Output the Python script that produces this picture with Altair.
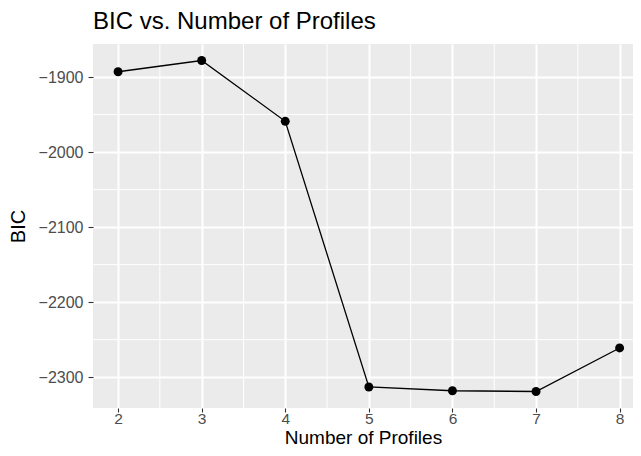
import altair as alt
import pandas as pd

# data
profiles = [2, 3, 4, 5, 6, 7, 8]
bic = [-1893, -1878, -1959, -2313, -2318, -2319, -2261]

x_ticks = [2, 3, 4, 5, 6, 7, 8]
y_ticks = [-2300, -2200, -2100, -2000, -1900]
x_minor = [2.5, 3.5, 4.5, 5.5, 6.5, 7.5]
y_minor = [-2250, -2150, -2050, -1950]
x_domain = [1.7, 8.16]
y_domain = [-2341, -1856]

FONT = "Liberation Sans"

df = pd.DataFrame({"x": profiles, "y": bic})
dfx = pd.DataFrame({"x": x_minor})
dfy = pd.DataFrame({"y": y_minor})

xscale = alt.Scale(domain=x_domain, nice=False, zero=False)
yscale = alt.Scale(domain=y_domain, nice=False, zero=False)

xaxis = alt.Axis(values=x_ticks, format="d", grid=True, gridColor="white", gridWidth=2,
                 domain=False, tickColor="#333333", tickSize=4, tickWidth=1.1,
                 labelColor="#4D4D4D", labelFontSize=15.5, labelFont=FONT,
                 labelBaseline="alphabetic", labelPadding=11,
                 titleFont=FONT, titleFontSize=19, titleColor="black", titleFontWeight="normal",
                 titleBaseline="alphabetic", titleY=35.8)
yaxis = alt.Axis(values=y_ticks, format="d", grid=True, gridColor="white", gridWidth=2,
                 domain=False, tickColor="#333333", tickSize=5, tickWidth=1.1,
                 labelColor="#4D4D4D", labelFontSize=16, labelFont=FONT, labelPadding=5,
                 titleFont=FONT, titleFontSize=20, titleColor="black", titleFontWeight="normal",
                 titlePadding=9.5)

xminor = alt.Chart(dfx).mark_rule(color="white", strokeWidth=1).encode(
    x=alt.X("x:Q", scale=xscale, axis=xaxis, title="Number of Profiles")
)
yminor = alt.Chart(dfy).mark_rule(color="white", strokeWidth=1).encode(
    y=alt.Y("y:Q", scale=yscale, axis=yaxis, title="BIC")
)

base = alt.Chart(df).encode(
    x=alt.X("x:Q", scale=xscale, axis=xaxis, title="Number of Profiles"),
    y=alt.Y("y:Q", scale=yscale, axis=yaxis, title="BIC"),
)
line = base.mark_line(color="black", strokeWidth=1.3)
pts = base.mark_circle(color="black", opacity=1, size=80)

chart = alt.layer(xminor, yminor, line, pts).properties(
    width=540,
    height=364,
    background="white",
    autosize=alt.AutoSizeParams(type="none"),
    padding={"left": 85, "top": 36, "right": 0, "bottom": 40},
    title=alt.TitleParams("BIC vs. Number of Profiles", anchor="start", frame="group",
                          font=FONT, fontSize=24, fontWeight="normal", color="black",
                          offset=10),
).configure_view(fill="#EBEBEB", strokeWidth=0)

chart.save("out.html", embed_options={"renderer": "svg", "actions": False})
